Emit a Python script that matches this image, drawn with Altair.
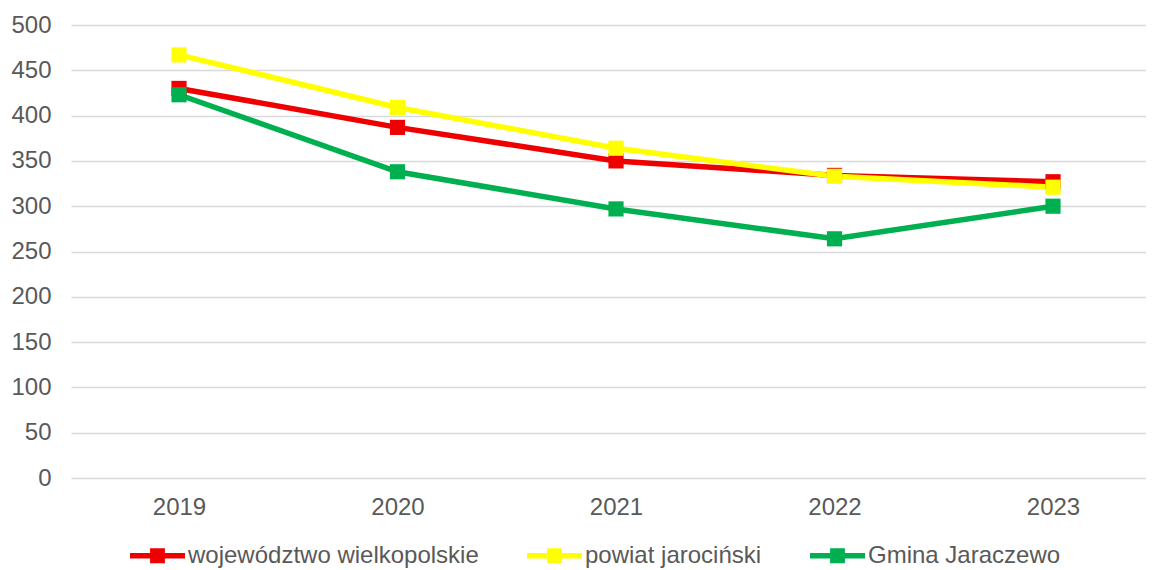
import altair as alt
import pandas as pd

years = [2019, 2020, 2021, 2022, 2023]
series_names = ["województwo wielkopolskie", "powiat jarociński", "Gmina Jaraczewo"]
woj = [430, 387, 350, 334, 327]
powiat = [467, 409, 364, 333, 321]
gmina = [423, 338, 297, 264, 300]
colors = ["#EE0000", "#FFFF00", "#00B050"]
y_ticks = [0, 50, 100, 150, 200, 250, 300, 350, 400, 450, 500]

rows = []
for name, vals in zip(series_names, [woj, powiat, gmina]):
    for i, (yr, v) in enumerate(zip(years, vals)):
        rows.append({"year": yr, "value": v, "series": name, "order": series_names.index(name)})
df = pd.DataFrame(rows)

FONT = "Liberation Sans"
TXT = "#595959"

legend_symbol = "M-1,-0.1H1V0.1H-1Z M-0.27,-0.27H0.27V0.27H-0.27Z"

color = alt.Color(
    "series:N",
    sort=series_names,
    scale=alt.Scale(domain=series_names, range=colors),
    legend=alt.Legend(
        title=None,
        orient="none",
        direction="horizontal",
        legendX=59,
        legendY=503,
        symbolType=legend_symbol,
        symbolSize=3025,
        symbolStrokeWidth=0,
        labelFont=FONT,
        labelFontSize=24,
        labelColor=TXT,
        labelOffset=3,
        labelLimit=600,
        columnPadding=48,
    ),
)

x = alt.X(
    "year:Q",
    scale=alt.Scale(domain=[2018.5057, 2023.4256], nice=False, zero=False),
    axis=alt.Axis(
        values=years, format="d", title=None, grid=False, ticks=False, domain=False,
        labelFont=FONT, labelFontSize=24, labelColor=TXT, labelPadding=17,
    ),
)
y = alt.Y(
    "value:Q",
    scale=alt.Scale(domain=[0, 500], nice=False),
    axis=alt.Axis(
        values=y_ticks, title=None, ticks=False, domain=False,
        gridColor="#D9D9D9", gridWidth=1.5,
        labelFont=FONT, labelFontSize=24, labelColor=TXT, labelPadding=20,
    ),
)

base = alt.Chart(df).encode(x=x, y=y, color=color, detail="series:N")

lines = base.mark_line(strokeWidth=5.5).encode(order=alt.Order("year:Q"))
points = base.mark_point(shape="square", filled=True, size=230, opacity=1).encode(
    order=alt.Order("order:Q")
)

chart = (
    alt.layer(lines, points)
    .properties(
        width=1075,
        height=453,
        autosize=alt.AutoSizeParams(type="none"),
        padding={"left": 63, "top": 17, "right": 0, "bottom": 92},
    )
    .configure_view(stroke=None)
)

chart.save("out.html", embed_options={"renderer": "svg", "actions": False})
